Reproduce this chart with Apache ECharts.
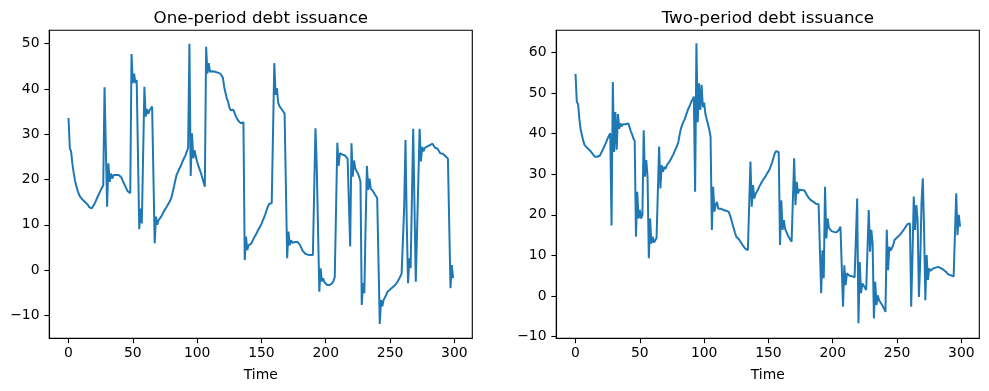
<!DOCTYPE html>
<html>
<head>
<meta charset="utf-8">
<script src="https://cdn.jsdelivr.net/npm/echarts@6/dist/echarts.min.js"></script>
<style>html,body{margin:0;padding:0;background:#fff}#c{width:989px;height:391px}</style>
</head>
<body>
<div id="c"></div>
<script>
const titles = ['One-period debt issuance', 'Two-period debt issuance'];
const xLabel = 'Time';
const xTicks = [0, 50, 100, 150, 200, 250, 300];
const yTicksOne = [-10, 0, 10, 20, 30, 40, 50];
const yTicksTwo = [-10, 0, 10, 20, 30, 40, 50, 60];
const time = Array.from({length: 300}, (_, i) => i);

const onePeriod = [
33.6,26.9,26.2,23.5,21.5,19.8,18.6,17.6,16.8,16.2,
15.8,15.5,15.2,15.0,14.8,14.4,13.9,13.7,13.6,13.8,
14.5,15.1,15.8,16.4,17.0,17.6,18.2,18.7,40.4,40.0,
14.0,23.6,19.5,21.3,20.2,21.0,20.6,21.0,20.8,21.0,
20.9,20.5,19.8,19.2,18.6,18.0,17.4,17.2,17.0,47.7,
41.3,43.4,41.3,42.0,41.6,9.0,13.6,10.3,10.5,40.5,
33.9,35.6,34.5,35.3,35.5,36.1,36.0,5.9,11.8,10.0,
11.0,11.4,11.8,12.3,12.9,13.3,13.8,14.3,14.7,15.3,
16.0,17.2,18.4,19.8,21.0,21.6,22.3,22.8,23.5,24.2,
24.8,25.4,26.2,27.0,50.0,20.8,30.2,24.7,26.5,25.0,
23.9,23.0,22.2,21.4,20.4,19.4,18.4,49.3,43.4,45.7,
43.8,44.2,43.9,43.9,43.8,43.8,43.6,43.5,43.4,43.1,
42.5,40.5,39.2,38.0,37.2,36.0,35.3,35.4,35.4,34.8,
34.0,33.5,33.0,32.6,32.4,32.5,32.7,2.2,7.4,4.4,
5.5,5.2,5.8,6.4,7.0,7.5,8.0,8.6,9.1,9.6,
10.2,10.9,11.6,12.3,13.2,14.0,14.6,14.8,14.8,14.8,
45.7,38.7,40.2,37.0,36.2,35.8,35.4,35.0,34.6,34.3,
2.6,8.5,5.5,6.6,6.0,6.3,6.2,6.3,6.2,5.8,
5.5,4.9,4.3,4.0,3.6,3.3,3.4,3.1,3.3,3.2,
3.3,3.2,31.3,23.0,9.0,-4.8,0.4,-2.5,-1.8,-2.7,
-3.0,-3.3,-3.3,-3.3,-3.2,-2.9,-2.4,-1.6,-1.2,28.1,
23.0,25.8,25.6,25.5,25.4,25.3,25.0,24.6,24.2,5.2,
28.0,20.6,24.2,22.4,21.8,21.3,20.6,19.5,-7.7,-2.9,
-5.1,10.0,23.0,17.7,20.2,18.0,17.7,17.3,16.8,16.4,
15.9,15.5,-11.9,-6.6,-8.0,-6.6,-6.7,-5.5,-4.8,-4.6,
-4.3,-4.1,-3.8,-3.5,-3.3,-2.9,-2.5,-2.0,-1.6,-0.8,
-0.8,14.0,28.7,10.0,-2.9,2.6,0.4,16.0,31.2,14.0,
-2.6,8.5,20.0,31.2,24.0,27.2,26.2,27.0,27.2,27.3,
27.4,27.6,27.8,27.9,27.6,27.0,26.9,26.8,26.4,25.8,
25.7,25.7,25.6,25.2,24.9,24.6,24.4,-4.0,1.1,-1.8
];

const twoPeriod = [
54.7,47.8,47.2,43.5,41.0,39.6,38.2,37.2,36.9,36.5,
36.2,35.9,35.6,35.1,34.7,34.3,34.2,34.3,34.3,34.6,
35.3,35.9,36.6,37.3,38.0,38.8,39.5,40.1,17.4,52.7,
35.5,45.3,36.0,44.8,41.2,42.5,41.8,42.3,42.0,42.3,
42.2,42.5,41.6,40.5,39.8,38.8,38.2,14.6,25.7,19.1,
21.2,19.1,19.9,40.8,29.4,33.5,29.4,9.3,19.1,12.9,
14.6,13.2,13.6,14.3,14.2,36.8,26.5,32.2,30.6,31.8,
31.3,32.2,32.4,33.1,33.6,34.3,34.8,35.6,36.3,37.0,
38.0,39.8,41.3,42.2,43.0,43.6,44.6,45.5,46.3,47.0,
47.8,48.4,49.1,25.7,62.2,42.8,52.4,45.8,52.0,46.5,
47.6,44.8,43.5,42.3,41.0,39.2,16.3,26.9,20.8,22.5,
23.2,21.5,21.6,21.5,21.4,21.2,21.1,21.0,20.9,20.8,
20.0,19.0,17.8,16.7,15.6,14.6,14.2,14.0,13.6,13.0,
12.5,12.1,11.7,11.4,11.3,11.3,33.1,22.0,27.3,24.0,
25.2,25.7,26.3,27.0,27.6,28.2,28.7,29.1,29.6,30.2,
30.7,31.3,32.1,33.0,34.2,35.2,35.7,35.6,35.4,12.6,
23.6,16.3,18.7,16.5,15.8,15.0,14.4,13.9,13.4,13.0,
33.9,22.4,28.1,25.3,26.2,25.9,26.1,25.8,26.0,25.6,
24.8,24.3,24.0,23.6,23.3,23.2,22.9,22.7,22.8,22.6,
22.4,0.7,11.3,4.4,26.9,14.2,19.1,16.8,17.0,16.0,
15.8,15.8,15.6,15.7,16.0,16.4,17.1,17.1,-2.6,7.6,
2.7,5.6,5.3,5.0,4.8,4.9,4.7,4.6,4.3,24.0,
-6.7,8.4,0.7,3.1,2.6,2.3,1.5,1.2,21.2,10.9,
16.3,13.0,-5.5,3.5,-2.2,0.2,-1.0,-1.5,-1.8,-2.5,
-3.2,-3.9,16.3,6.4,12.1,11.2,11.0,12.5,13.8,14.1,
14.4,14.7,15.0,15.4,15.8,16.2,16.7,17.2,17.7,18.0,
17.9,-2.6,10.0,24.5,16.3,22.4,18.7,-0.2,8.0,22.8,
29.0,16.7,-1.0,10.1,4.0,6.8,6.2,6.5,6.8,6.8,
7.0,7.1,7.2,7.1,6.9,6.7,6.5,6.3,6.0,5.7,
5.3,5.2,5.1,5.0,4.8,4.6,25.3,15.0,20.0,17.1
];

const FONT = 'DejaVu Sans';
const fmt = v => String(v).replace('-', '\u2212');

function xAxis(gi) {
  return {
    type: 'value', gridIndex: gi, min: -14.95, max: 313.95,
    name: xLabel, nameLocation: 'middle', nameGap: 30,
    nameTextStyle: {fontFamily: FONT, fontSize: 13.9, color: '#000'},
    axisLine: {show: true, onZero: false, lineStyle: {color: '#000', width: 1.1}},
    axisTick: {show: true, length: 4.9, customValues: xTicks, lineStyle: {color: '#000', width: 1.1}},
    axisLabel: {customValues: xTicks, margin: 8, fontFamily: FONT, fontSize: 13.9, color: '#000', formatter: fmt},
    splitLine: {show: false}
  };
}
function yAxis(gi, min, max, ticks) {
  return {
    type: 'value', gridIndex: gi, min: min, max: max,
    axisLine: {show: true, onZero: false, lineStyle: {color: '#000', width: 1.1}},
    axisTick: {show: true, length: 4.9, customValues: ticks, lineStyle: {color: '#000', width: 1.1}},
    axisLabel: {customValues: ticks, margin: 9.8, fontFamily: FONT, fontSize: 13.9, color: '#000', formatter: fmt},
    splitLine: {show: false}
  };
}

const chart = echarts.init(document.getElementById('c'), null, {renderer: 'canvas'});
chart.setOption({
  animation: false,
  backgroundColor: '#fff',
  title: [
    {text: titles[0], left: 260.8, top: 10, padding: 0, textAlign: 'center', textStyle: {fontFamily: FONT, fontSize: 16.7, fontWeight: 'normal', color: '#000'}},
    {text: titles[1], left: 767.8, top: 10, padding: 0, textAlign: 'center', textStyle: {fontFamily: FONT, fontSize: 16.7, fontWeight: 'normal', color: '#000'}}
  ],
  grid: [
    {left: 49.3, top: 30.3, width: 423, height: 308, show: true, borderColor: '#000', borderWidth: 1.1, backgroundColor: 'transparent'},
    {left: 556.3, top: 30.3, width: 423, height: 308, show: true, borderColor: '#000', borderWidth: 1.1, backgroundColor: 'transparent'}
  ],
  xAxis: [xAxis(0), xAxis(1)],
  yAxis: [yAxis(0, -15.08, 52.96, yTicksOne), yAxis(1, -10.39, 65.42, yTicksTwo)],
  series: [
    {type: 'line', xAxisIndex: 0, yAxisIndex: 0, data: time.map((t, i) => [t, onePeriod[i]]), showSymbol: false, lineStyle: {color: '#1f77b4', width: 2}, itemStyle: {color: '#1f77b4'}},
    {type: 'line', xAxisIndex: 1, yAxisIndex: 1, data: time.map((t, i) => [t, twoPeriod[i]]), showSymbol: false, lineStyle: {color: '#1f77b4', width: 2}, itemStyle: {color: '#1f77b4'}}
  ]
});
</script>
</body>
</html>
